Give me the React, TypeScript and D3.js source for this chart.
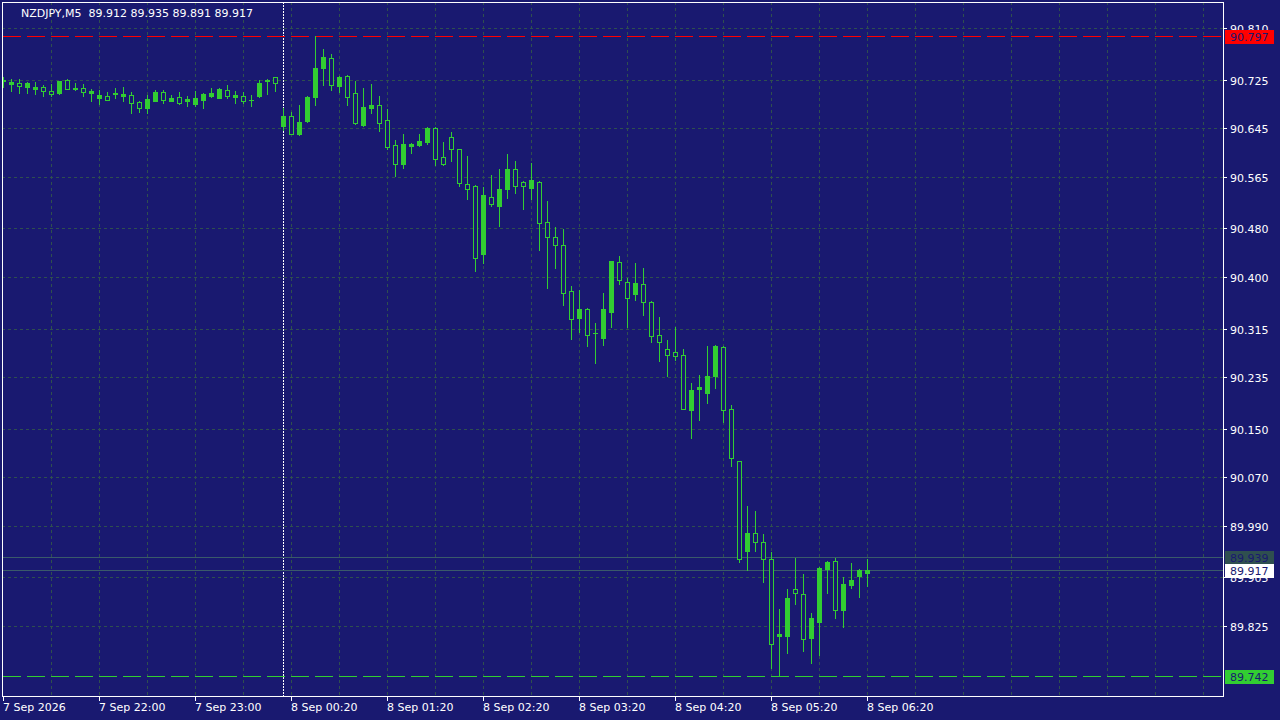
import { useEffect, useRef } from "react";
import * as d3 from "d3";

const WIDTH = 1280;
const HEIGHT = 720;
const FRAME = { left: 2, top: 2, right: 1223, bottom: 696 };
const BG = "#191970";
const CANDLE = "#32CD32";
const GRID = "#2F4F4F";
const FONT = "'DejaVu Sans', Tahoma, sans-serif";

const SYMBOL = "NZDJPY,M5";

// M5 bars, oldest first
const openPrices = [
  90.723, 90.717, 90.719, 90.713, 90.71, 90.712, 90.707, 90.703, 90.724, 90.711,
  90.711, 90.703, 90.694, 90.698, 90.702, 90.698, 90.7, 90.688, 90.679, 90.69,
  90.705, 90.69, 90.696, 90.69, 90.685, 90.692, 90.698, 90.695, 90.708, 90.697,
  90.698, 90.691, 90.698, 90.723, 90.729, 90.649, 90.665, 90.636, 90.657, 90.696,
  90.744, 90.761, 90.714, 90.731, 90.703, 90.65, 90.678, 90.683, 90.658, 90.617,
  90.586, 90.616, 90.617, 90.622, 90.645, 90.597, 90.63, 90.61, 90.553, 90.549,
  90.437, 90.531, 90.517, 90.545, 90.577, 90.557, 90.547, 90.557, 90.49, 90.465,
  90.452, 90.376, 90.333, 90.347, 90.308, 90.3, 90.343, 90.424, 90.391, 90.372,
  90.389, 90.359, 90.305, 90.282, 90.276, 90.271, 90.181, 90.216, 90.209, 90.236,
  90.285, 90.182, 90.096, 89.949, 89.979, 89.964, 89.936, 89.809, 89.809, 89.886,
  89.877, 89.806, 89.832, 89.919, 89.932, 89.852, 89.893, 89.908, 89.912,
];
const highPrices = [
  90.73, 90.726, 90.726, 90.721, 90.721, 90.716, 90.718, 90.723, 90.726, 90.719,
  90.718, 90.71, 90.708, 90.705, 90.711, 90.713, 90.705, 90.69, 90.7, 90.708,
  90.708, 90.7, 90.705, 90.698, 90.706, 90.703, 90.711, 90.711, 90.716, 90.706,
  90.705, 90.7, 90.724, 90.726, 90.73, 90.679, 90.672, 90.683, 90.698, 90.797,
  90.775, 90.767, 90.731, 90.733, 90.723, 90.711, 90.718, 90.698, 90.677, 90.626,
  90.635, 90.621, 90.635, 90.647, 90.647, 90.622, 90.639, 90.611, 90.599, 90.551,
  90.548, 90.568, 90.578, 90.602, 90.591, 90.558, 90.588, 90.558, 90.525, 90.483,
  90.479, 90.385, 90.378, 90.348, 90.324, 90.373, 90.427, 90.434, 90.398, 90.423,
  90.415, 90.36, 90.334, 90.296, 90.317, 90.281, 90.225, 90.238, 90.286, 90.288,
  90.286, 90.189, 90.097, 90.023, 90.014, 89.976, 89.947, 89.853, 89.886, 89.937,
  89.911, 89.846, 89.922, 89.932, 89.937, 89.906, 89.929, 89.919, 89.935,
];
const lowPrices = [
  90.713, 90.707, 90.703, 90.703, 90.702, 90.698, 90.698, 90.702, 90.709, 90.708,
  90.698, 90.689, 90.684, 90.691, 90.694, 90.69, 90.67, 90.672, 90.67, 90.689,
  90.687, 90.689, 90.685, 90.682, 90.682, 90.679, 90.697, 90.694, 90.694, 90.687,
  90.687, 90.682, 90.697, 90.702, 90.707, 90.642, 90.635, 90.634, 90.655, 90.683,
  90.716, 90.708, 90.705, 90.683, 90.652, 90.649, 90.67, 90.64, 90.611, 90.566,
  90.579, 90.604, 90.616, 90.619, 90.584, 90.585, 90.591, 90.549, 90.529, 90.409,
  90.423, 90.517, 90.484, 90.53, 90.539, 90.512, 90.529, 90.445, 90.381, 90.415,
  90.353, 90.297, 90.31, 90.287, 90.259, 90.288, 90.318, 90.389, 90.317, 90.362,
  90.338, 90.292, 90.262, 90.236, 90.263, 90.182, 90.135, 90.165, 90.193, 90.217,
  90.161, 90.089, 89.931, 89.918, 89.949, 89.898, 89.755, 89.742, 89.781, 89.862,
  89.783, 89.764, 89.778, 89.88, 89.839, 89.824, 89.888, 89.872, 89.891,
];
const closePrices = [
  90.724, 90.721, 90.715, 90.719, 90.713, 90.707, 90.702, 90.722, 90.71, 90.71,
  90.705, 90.706, 90.7, 90.692, 90.703, 90.701, 90.687, 90.679, 90.693, 90.705,
  90.692, 90.695, 90.687, 90.693, 90.695, 90.701, 90.703, 90.71, 90.698, 90.7,
  90.689, 90.692, 90.719, 90.724, 90.72, 90.665, 90.636, 90.655, 90.697, 90.744,
  90.762, 90.716, 90.73, 90.696, 90.653, 90.68, 90.683, 90.653, 90.614, 90.586,
  90.619, 90.619, 90.624, 90.646, 90.594, 90.586, 90.61, 90.554, 90.544, 90.431,
  90.535, 90.52, 90.544, 90.577, 90.549, 90.549, 90.559, 90.488, 90.465, 90.453,
  90.374, 90.33, 90.347, 90.305, 90.307, 90.347, 90.426, 90.395, 90.366, 90.39,
  90.358, 90.303, 90.292, 90.272, 90.269, 90.183, 90.214, 90.219, 90.237, 90.287,
  90.18, 90.101, 89.936, 89.978, 89.964, 89.935, 89.796, 89.812, 89.871, 89.879,
  89.804, 89.838, 89.921, 89.93, 89.851, 89.894, 89.901, 89.918, 89.917,
];

const xTickBars = [0, 12, 24, 36, 48, 60, 72, 84, 96, 108];
const xTickLabels = [
  "7 Sep 2026",
  "7 Sep 22:00",
  "7 Sep 23:00",
  "8 Sep 00:20",
  "8 Sep 01:20",
  "8 Sep 02:20",
  "8 Sep 03:20",
  "8 Sep 04:20",
  "8 Sep 05:20",
  "8 Sep 06:20",
];
const yTickValues = [
  90.81, 90.725, 90.645, 90.565, 90.48, 90.4, 90.315, 90.235, 90.15, 90.07,
  89.99, 89.905, 89.825,
];
const daySeparatorBar = 35;
const askPrice = 89.939;

const App = () => {
  const svgRef = useRef<SVGSVGElement | null>(null);

  useEffect(() => {
    const svg = d3.select(svgRef.current);
    svg.selectAll("*").remove();

    const n = openPrices.length;
    const x = d3.scaleLinear().domain([0, 108]).range([3, 867]);
    const y = d3.scaleLinear().domain([89.825, 90.81]).range([626, 28]);
    const py = (v: number) => Math.round(y(v));

    const bidPrice = closePrices[n - 1];
    const hiPrice = d3.max(highPrices) as number;
    const loPrice = d3.min(lowPrices) as number;

    svg
      .append("rect")
      .attr("width", WIDTH)
      .attr("height", HEIGHT)
      .attr("fill", BG);

    svg
      .append("defs")
      .append("clipPath")
      .attr("id", "plot-clip")
      .append("rect")
      .attr("x", FRAME.left + 1)
      .attr("y", FRAME.top + 1)
      .attr("width", FRAME.right - FRAME.left - 1)
      .attr("height", FRAME.bottom - FRAME.top - 1);

    const plot = svg.append("g").attr("clip-path", "url(#plot-clip)");

    // grid
    plot
      .append("g")
      .selectAll("line")
      .data(yTickValues)
      .join("line")
      .attr("x1", FRAME.left)
      .attr("x2", FRAME.right)
      .attr("y1", (d) => py(d) + 0.5)
      .attr("y2", (d) => py(d) + 0.5)
      .attr("stroke", GRID)
      .attr("stroke-dasharray", "3,3");

    plot
      .append("g")
      .selectAll("line")
      .data(d3.range(6, 151, 6))
      .join("line")
      .attr("x1", (d) => x(d) + 0.5)
      .attr("x2", (d) => x(d) + 0.5)
      .attr("y1", FRAME.top)
      .attr("y2", FRAME.bottom)
      .attr("stroke", GRID)
      .attr("stroke-dasharray", "3,3");

    // day separator
    plot
      .append("line")
      .attr("x1", x(daySeparatorBar) + 0.5)
      .attr("x2", x(daySeparatorBar) + 0.5)
      .attr("y1", FRAME.top)
      .attr("y2", FRAME.bottom)
      .attr("stroke", "#ffffff")
      .attr("stroke-dasharray", "2,1");

    // high / low levels
    [
      { v: hiPrice, c: "#ff0000" },
      { v: loPrice, c: CANDLE },
    ].forEach((lv) => {
      plot
        .append("line")
        .attr("x1", FRAME.left + 1)
        .attr("x2", FRAME.right)
        .attr("y1", py(lv.v) + 0.5)
        .attr("y2", py(lv.v) + 0.5)
        .attr("stroke", lv.c)
        .attr("stroke-dasharray", "18,6");
    });

    // bid / ask lines
    [askPrice, bidPrice].forEach((v) => {
      plot
        .append("line")
        .attr("x1", FRAME.left)
        .attr("x2", FRAME.right)
        .attr("y1", py(v) + 0.5)
        .attr("y2", py(v) + 0.5)
        .attr("stroke", "#3a5a6a");
    });

    // candles
    const candles = plot
      .append("g")
      .selectAll("g")
      .data(d3.range(n))
      .join("g");

    candles
      .append("line")
      .attr("x1", (i) => x(i) + 0.5)
      .attr("x2", (i) => x(i) + 0.5)
      .attr("y1", (i) => py(highPrices[i]))
      .attr("y2", (i) => py(lowPrices[i]) + 1)
      .attr("stroke", CANDLE);

    candles.each(function (i) {
      const g = d3.select(this);
      const o = openPrices[i];
      const c = closePrices[i];
      const top = py(Math.max(o, c));
      const bot = py(Math.min(o, c));
      if (c >= o) {
        g.append("rect")
          .attr("x", x(i) - 2)
          .attr("y", top)
          .attr("width", 5)
          .attr("height", Math.max(1, bot - top + 1))
          .attr("fill", CANDLE);
      } else if (bot - top < 2) {
        g.append("rect")
          .attr("x", x(i) - 2)
          .attr("y", top)
          .attr("width", 5)
          .attr("height", bot - top + 1)
          .attr("fill", CANDLE);
      } else {
        g.append("rect")
          .attr("x", x(i) - 1.5)
          .attr("y", top + 0.5)
          .attr("width", 4)
          .attr("height", bot - top)
          .attr("fill", BG)
          .attr("stroke", CANDLE);
      }
    });

    // frame
    svg
      .append("rect")
      .attr("x", FRAME.left + 0.5)
      .attr("y", FRAME.top + 0.5)
      .attr("width", FRAME.right - FRAME.left)
      .attr("height", FRAME.bottom - FRAME.top)
      .attr("fill", "none")
      .attr("stroke", "#ffffff");

    // y axis
    const yAxis = svg
      .append("g")
      .selectAll("g")
      .data(yTickValues)
      .join("g");
    yAxis
      .append("line")
      .attr("x1", FRAME.right + 1)
      .attr("x2", FRAME.right + 4)
      .attr("y1", (d) => py(d) + 0.5)
      .attr("y2", (d) => py(d) + 0.5)
      .attr("stroke", "#ffffff");
    yAxis
      .append("text")
      .attr("x", 1230)
      .attr("y", (d) => py(d) + 5)
      .attr("fill", "#ffffff")
      .attr("font-family", FONT)
      .attr("font-size", 11)
      .text((d) => d3.format(".3f")(d));

    // x axis
    const xAxis = svg
      .append("g")
      .selectAll("g")
      .data(xTickBars)
      .join("g");
    xAxis
      .append("line")
      .attr("x1", (d) => x(d) + 0.5)
      .attr("x2", (d) => x(d) + 0.5)
      .attr("y1", FRAME.bottom + 1)
      .attr("y2", FRAME.bottom + 5)
      .attr("stroke", "#ffffff");
    xAxis
      .append("text")
      .attr("x", (d) => x(d))
      .attr("y", 711)
      .attr("fill", "#ffffff")
      .attr("font-family", FONT)
      .attr("font-size", 11)
      .text((_, i) => xTickLabels[i]);

    // price tags on the right scale
    [
      { v: hiPrice, bg: "#ff0000" },
      { v: askPrice, bg: "#2F4F4F" },
      { v: bidPrice, bg: "#ffffff" },
      { v: loPrice, bg: CANDLE },
    ].forEach((t) => {
      svg
        .append("rect")
        .attr("x", 1225)
        .attr("y", py(t.v) - 6)
        .attr("width", 49)
        .attr("height", 14)
        .attr("fill", t.bg);
      svg
        .append("text")
        .attr("x", 1230)
        .attr("y", py(t.v) + 5)
        .attr("fill", BG)
        .attr("font-family", FONT)
        .attr("font-size", 11)
        .text(d3.format(".3f")(t.v));
    });

    // title
    const fmt = d3.format(".3f");
    svg
      .append("text")
      .attr("x", 21)
      .attr("y", 17)
      .attr("fill", "#ffffff")
      .attr("font-family", FONT)
      .attr("font-size", 11)
      .attr("xml:space", "preserve")
      .style("white-space", "pre")
      .text(
        `${SYMBOL}  ${fmt(openPrices[n - 1])} ${fmt(highPrices[n - 1])} ${fmt(
          lowPrices[n - 1]
        )} ${fmt(closePrices[n - 1])}`
      );
  }, []);

  return (
    <svg
      ref={svgRef}
      width={WIDTH}
      height={HEIGHT}
      style={{ position: "absolute", left: 0, top: 0, display: "block" }}
    />
  );
};

export default App;
